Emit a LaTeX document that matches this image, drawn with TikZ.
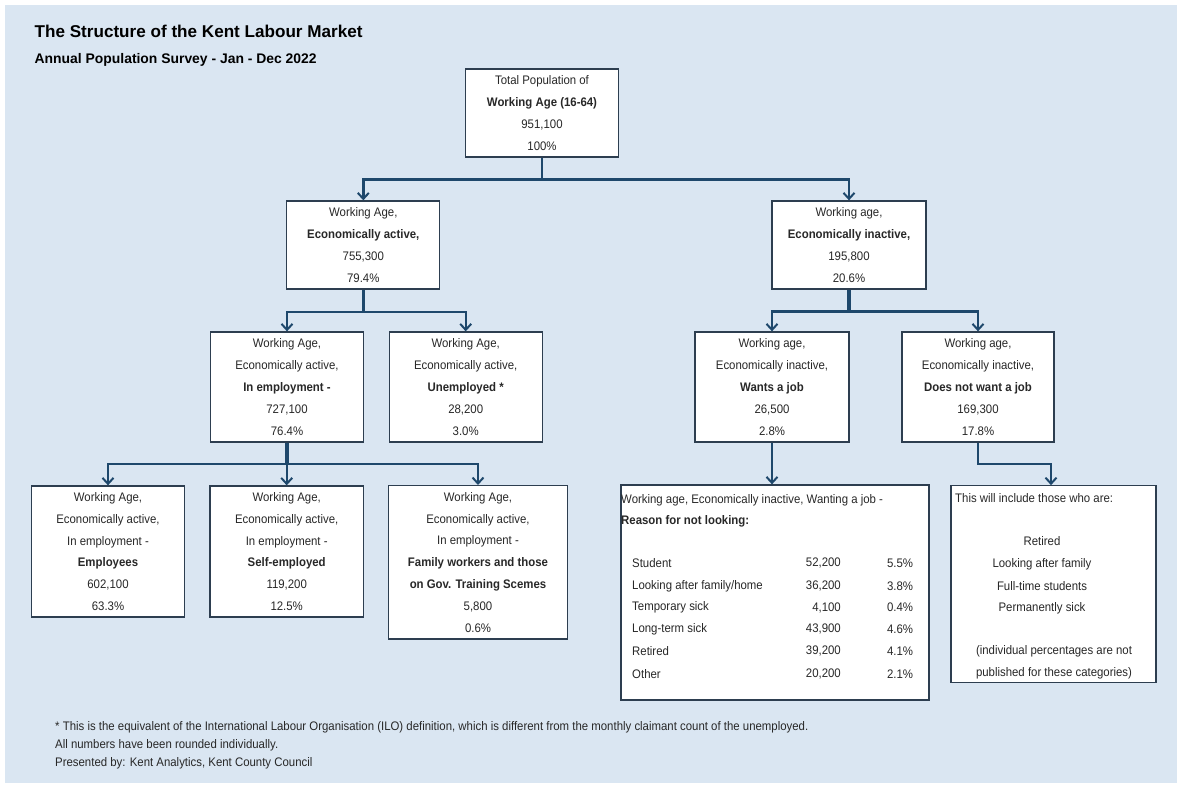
\documentclass[tikz,border=0pt]{standalone}
\usepackage{fontspec}
\setmainfont{Liberation Sans}[FakeStretch=0.92]
\newfontfamily\titlefont{Liberation Sans}
\usetikzlibrary{arrows.meta}
\definecolor{bgblue}{RGB}{218,230,242}
\definecolor{boxline}{RGB}{45,62,80}
\definecolor{conn}{RGB}{30,72,108}
\definecolor{txt}{RGB}{40,40,40}
\begin{document}
\begin{tikzpicture}[x=1pt,y=-1pt,
  box/.style={draw=boxline, line width=1.3pt, fill=white, align=center, inner sep=0pt,
    text=txt, font=\fontsize{12.4}{21.8}\selectfont},
  plain/.style={inner sep=0pt, text=txt, font=\fontsize{12.4}{14}\selectfont},
  lab/.style={plain, anchor=west},
  num/.style={plain, anchor=east},
  foot/.style={inner sep=0pt, anchor=west, text=txt, font=\fontsize{12.4}{14}\selectfont},
  link/.style={draw=conn, line width=2.4pt, -{Straight Barb[length=6pt,width=11pt,line width=2pt]}},
  stub/.style={draw=conn, line width=4.5pt},
]
\useasboundingbox (0,0) rectangle (1177,787);
\fill[bgblue] (5,5) rectangle (1177,783);

% titles
\node[inner sep=0pt, anchor=west] (title) at (34.5,31)
  {\titlefont\fontsize{17.1}{20}\selectfont\bfseries The Structure of the Kent Labour Market};
\node[inner sep=0pt, anchor=west] (subtitle) at (34.5,60)
  {\titlefont\fontsize{13.9}{16}\selectfont\bfseries Annual Population Survey - Jan - Dec 2022};

% boxes
\node[box, minimum width=153pt, minimum height=88pt] (top) at (542,113)
  {Total Population of\\\textbf{Working Age (16-64)}\\951,100\\100\%};
\node[box, minimum width=153pt, minimum height=88pt] (active) at (363.3,245)
  {Working Age,\\\textbf{Economically active,}\\755,300\\79.4\%};
\node[box, minimum width=154pt, minimum height=88pt] (inactive) at (849,245)
  {Working age,\\\textbf{Economically inactive,}\\195,800\\20.6\%};
\node[box, minimum width=153pt, minimum height=110pt] (inemp) at (287,387)
  {Working Age,\\Economically active,\\\textbf{In employment -}\\727,100\\76.4\%};
\node[box, minimum width=153pt, minimum height=110pt] (unemp) at (465.7,387)
  {Working Age,\\Economically active,\\\textbf{Unemployed *}\\28,200\\3.0\%};
\node[box, minimum width=154pt, minimum height=110pt] (wants) at (772,387)
  {Working age,\\Economically inactive,\\\textbf{Wants a job}\\26,500\\2.8\%};
\node[box, minimum width=152pt, minimum height=110pt] (notwant) at (978,387)
  {Working age,\\Economically inactive,\\\textbf{Does not want a job}\\169,300\\17.8\%};
\node[box, minimum width=152.6pt, minimum height=131pt] (employees) at (108,551.5)
  {Working Age,\\Economically active,\\In employment -\\\textbf{Employees}\\602,100\\63.3\%};
\node[box, minimum width=153.3pt, minimum height=131pt] (selfemp) at (286.7,551.5)
  {Working Age,\\Economically active,\\In employment -\\\textbf{Self-employed}\\119,200\\12.5\%};
\node[box, minimum width=179.4pt, minimum height=153.3pt] (family) at (478,562.3)
  {Working Age,\\Economically active,\\In employment -\\\textbf{Family workers and those}\\\textbf{on Gov. Training Scemes}\\5,800\\0.6\%};
\node[box, minimum width=308pt, minimum height=215pt] (reasons) at (775,592.5) {};
\node[box, minimum width=205pt, minimum height=197pt] (includes) at (1053.5,584.3) {};

% connectors
\draw[link] (top.south) -- ++(0,22) -| (active.north);
\draw[link] (top.south) -- ++(0,22) -| (inactive.north);
\draw[link] (active.south) -- ++(0,22.5) -| (inemp.north);
\draw[link] (active.south) -- ++(0,22.5) -| (unemp.north);
\draw[stub] (inactive.south) -- ++(0,22);
\draw[link] (inactive.south) -- ++(0,22) -| (wants.north);
\draw[link] (inactive.south) -- ++(0,22) -| (notwant.north);
\draw[stub] (inemp.south) -- ++(0,21.3);
\draw[link] (inemp.south) -- ++(0,21.3) -| (employees.north);
\draw[link] (inemp.south) -- ++(0,21.3) -| (selfemp.north);
\draw[link] (inemp.south) -- ++(0,21.3) -| (family.north);
\draw[link] (wants.south) -- (wants.south |- reasons.north);
\coordinate (incin) at ([xshift=-2.5pt]includes.north);
\draw[link] (notwant.south) -- ++(0,21.3) -| (incin);

% reasons text
\node[lab] (rh1) at (621,500) {Working age, Economically inactive, Wanting a job -};
\node[lab] (rh2) at (621,521.7) {\textbf{Reason for not looking:}};
\node[lab] (rl1) at (632,563.3) {Student};
\node[num] (rn1) at (841,563.3) {52,200};
\node[num] (rp1) at (913.3,563.3) {5.5\%};
\node[lab] (rl2) at (632,585.8) {Looking after family/home};
\node[num] (rn2) at (841,585.8) {36,200};
\node[num] (rp2) at (913.3,585.8) {3.8\%};
\node[lab] (rl3) at (632,607.6) {Temporary sick};
\node[num] (rn3) at (841,607.6) {4,100};
\node[num] (rp3) at (913.3,607.6) {0.4\%};
\node[lab] (rl4) at (632,629.3) {Long-term sick};
\node[num] (rn4) at (841,629.3) {43,900};
\node[num] (rp4) at (913.3,629.3) {4.6\%};
\node[lab] (rl5) at (632,651.2) {Retired};
\node[num] (rn5) at (841,651.2) {39,200};
\node[num] (rp5) at (913.3,651.2) {4.1\%};
\node[lab] (rl6) at (632,674) {Other};
\node[num] (rn6) at (841,674) {20,200};
\node[num] (rp6) at (913.3,674) {2.1\%};

% includes text
\node[lab] (ih) at (955,498) {This will include those who are:};
\node[plain] (i1) at (1042,541) {Retired};
\node[plain] (i2) at (1042,564) {Looking after family};
\node[plain] (i3) at (1042,586.5) {Full-time students};
\node[plain] (i4) at (1042,608.5) {Permanently sick};
\node[plain] (i5) at (1054,651.5) {(individual percentages are not};
\node[plain] (i6) at (1054,673.5) {published for these categories)};

% footnotes
\node[foot] (f1) at (55,727) {* This is the equivalent of the International Labour Organisation (ILO) definition, which is different from the monthly claimant count of the unemployed.};
\node[foot] (f2) at (55,745) {All numbers have been rounded individually.};
\node[foot] (f3) at (55,763) {Presented by: Kent Analytics, Kent County Council};
\end{tikzpicture}
\end{document}
